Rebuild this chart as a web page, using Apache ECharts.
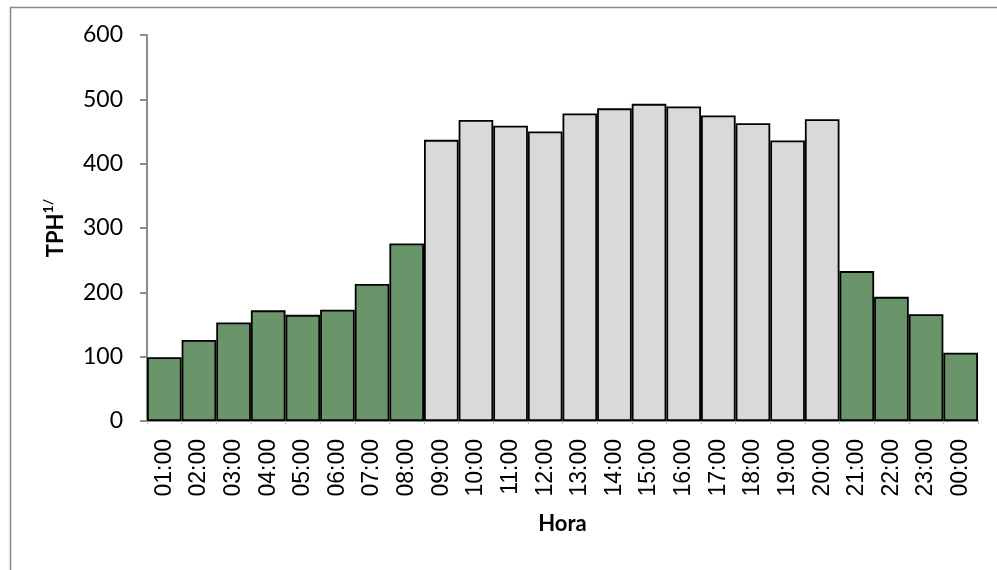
<!DOCTYPE html>
<html>
<head>
<meta charset="utf-8">
<script src="https://cdn.jsdelivr.net/npm/echarts@6/dist/echarts.min.js"></script>
<style>html,body{margin:0;padding:0;background:#fff;}#c{width:997px;height:570px;}</style>
</head>
<body>
<div id="c"></div>
<script>
const categories = ['01:00','02:00','03:00','04:00','05:00','06:00','07:00','08:00','09:00','10:00','11:00','12:00','13:00','14:00','15:00','16:00','17:00','18:00','19:00','20:00','21:00','22:00','23:00','00:00'];
const offPeakValues = [99,126,153,172,165,173,213,276,null,null,null,null,null,null,null,null,null,null,null,null,233,193,166,106];
const peakValues = [null,null,null,null,null,null,null,null,437,468,459,450,478,486,493,489,475,463,436,469,null,null,null,null];
const yTicks = {min: 0, max: 600, interval: 100};
const yName = 'TPH';
const yNameSup = '1/';
const xName = 'Hora';

const chart = echarts.init(document.getElementById('c'), null, {renderer: 'canvas'});
chart.setOption({
  animation: false,
  backgroundColor: '#fff',
  graphic: [{
    type: 'rect', left: 8, top: 5, silent: true,
    shape: {x: 0, y: 0, width: 1100, height: 700},
    style: {fill: 'none', stroke: '#888', lineWidth: 1.5}
  }],
  grid: {left: 147, right: 19, top: 35, bottom: 149, containLabel: false},
  xAxis: {
    type: 'category',
    data: categories,
    name: xName,
    nameLocation: 'middle',
    nameGap: 92,
    nameTextStyle: {fontFamily: 'Lato', fontWeight: 'bold', fontSize: 22, color: '#000'},
    axisLine: {lineStyle: {color: '#8c8c8c', width: 2}},
    axisTick: {show: true, length: 3, lineStyle: {color: '#bbb'}},
    axisLabel: {rotate: 90, margin: 18, fontFamily: '"Liberation Sans", Arial, sans-serif', fontSize: 23, color: '#000', interval: 0}
  },
  yAxis: {
    type: 'value',
    min: yTicks.min, max: yTicks.max, interval: yTicks.interval,
    name: '{a|' + yName + '}{b|' + yNameSup + '}',
    nameLocation: 'middle',
    nameRotate: 90,
    nameGap: 80,
    nameTextStyle: {
      rich: {
        a: {fontFamily: 'Lato', fontWeight: 'bold', fontSize: 22, color: '#000', verticalAlign: 'bottom', lineHeight: 26},
        b: {fontFamily: 'Lato', fontWeight: 'bold', fontSize: 14, color: '#000', verticalAlign: 'top', lineHeight: 26}
      }
    },
    axisLine: {show: true, lineStyle: {color: '#8c8c8c', width: 2}},
    axisTick: {show: true, length: 7, lineStyle: {color: '#8c8c8c', width: 2}},
    splitLine: {show: false},
    axisLabel: {margin: 24, fontFamily: 'Lato', fontSize: 23, color: '#000'}
  },
  series: [
    {
      type: 'bar', data: offPeakValues, barCategoryGap: '0%', barGap: '-100%',
      itemStyle: {color: '#6a956b', borderColor: '#000', borderWidth: 1.8}
    },
    {
      type: 'bar', data: peakValues, barCategoryGap: '0%', barGap: '-100%',
      itemStyle: {color: '#d9d9d9', borderColor: '#000', borderWidth: 1.8}
    }
  ]
});
</script>
</body>
</html>
